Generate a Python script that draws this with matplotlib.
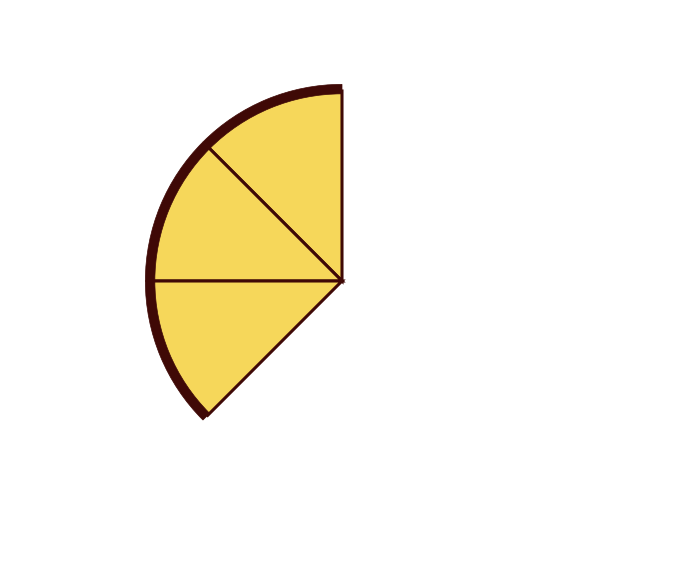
import matplotlib.pyplot as plt

# three equal slices covering 3/8 of the circle
labels = ['A', 'B', 'C']
values = [0.125, 0.125, 0.125]

fill_color = '#f6d75a'
edge_color = '#3f0906'

fig = plt.figure(figsize=(6.96, 5.64), dpi=100)
ax = fig.add_axes([0, 0, 1, 1])

# main wedges
ax.pie(values, startangle=90, counterclock=True, normalize=False,
       radius=1.0, colors=[fill_color] * 3,
       wedgeprops=dict(edgecolor=edge_color, linewidth=2.2))

# thick outer rim
ax.pie(values, startangle=90, counterclock=True, normalize=False,
       radius=1.035, colors=[edge_color] * 3,
       wedgeprops=dict(width=0.05, edgecolor=edge_color, linewidth=0.5))

ax.set_aspect('equal')
ax.set_xlim(-342 / 190, (696 - 342) / 190)
ax.set_ylim(-283 / 190, (564 - 283) / 190)
ax.axis('off')

fig.savefig('out.png', dpi=100)
